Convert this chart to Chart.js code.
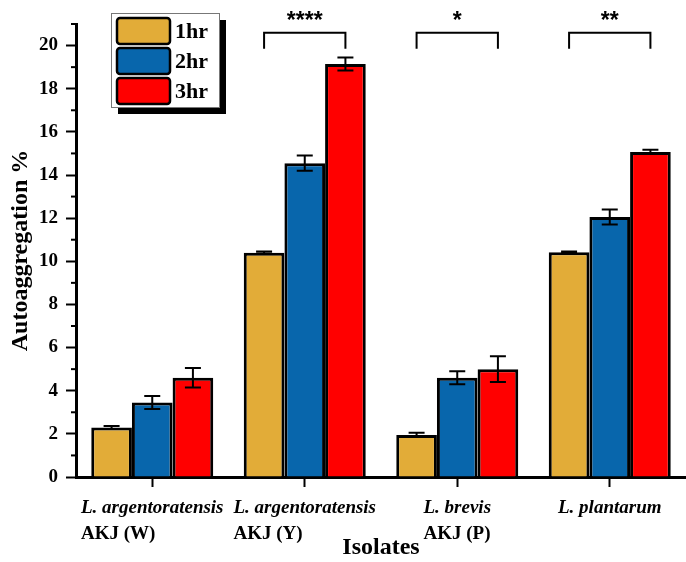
<!DOCTYPE html>
<html lang="en">
<head>
    <meta charset="UTF-8">
    <title>Autoaggregation</title>
    <script src="https://cdn.jsdelivr.net/npm/chart.js"></script>
    <style>
        html, body { margin: 0; padding: 0; background: #fff; }
        #wrap { width: 686px; height: 562px; }
    </style>
</head>
<body>
    <div id="wrap"><canvas id="aggChart"></canvas></div>

    <script>
        // x labels: first line italic, second line upright
        const categories = [
            ['L. argentoratensis', 'AKJ (W)'],
            ['L. argentoratensis', 'AKJ (Y)'],
            ['L. brevis', 'AKJ (P)'],
            ['L. plantarum']
        ];
        const seriesLabels = ['1hr', '2hr', '3hr'];
        const values1hr = [2.3, 10.4, 1.95, 10.42];
        const values2hr = [3.45, 14.55, 4.6, 12.05];
        const values3hr = [4.6, 19.15, 5.0, 15.07];
        const err1hr = [0.07, 0.05, 0.1, 0.03];
        const err2hr = [0.3, 0.35, 0.3, 0.35];
        const err3hr = [0.45, 0.3, 0.6, 0.1];
        const yTicks = [0, 2, 4, 6, 8, 10, 12, 14, 16, 18, 20];
        const yMinorTicks = [1, 3, 5, 7, 9, 11, 13, 15, 17, 19, 21];
        const sigCategories = [1, 2, 3];
        const sigLabels = ['****', '*', '**'];
        const sigTop = 20.6;
        const sigLeg = 19.85;
        const sigText = 21.45;

        const colors = ['#E2AC38', '#0866AC', '#FF0000'];
        const serif = '"Liberation Serif", "Times New Roman", serif';

        const errorBars = {
            id: 'errorBars',
            afterDatasetsDraw(chart) {
                const ctx = chart.ctx;
                const y = chart.scales.y;
                ctx.save();
                ctx.strokeStyle = '#000';
                ctx.lineWidth = 2;
                chart.data.datasets.forEach((ds, i) => {
                    const meta = chart.getDatasetMeta(i);
                    meta.data.forEach((bar, j) => {
                        const v = ds.data[j], e = ds.errors[j];
                        const yt = y.getPixelForValue(v + e);
                        const yb = y.getPixelForValue(v - e);
                        const x = bar.x;
                        ctx.beginPath();
                        ctx.moveTo(x, yt); ctx.lineTo(x, yb);
                        ctx.moveTo(x - 8, yt); ctx.lineTo(x + 8, yt);
                        ctx.moveTo(x - 8, yb); ctx.lineTo(x + 8, yb);
                        ctx.stroke();
                    });
                });
                ctx.restore();
            }
        };

        const extras = {
            id: 'extras',
            afterDraw(chart) {
                const ctx = chart.ctx;
                const x = chart.scales.x, y = chart.scales.y;
                ctx.save();

                // minor y ticks
                ctx.strokeStyle = '#000';
                ctx.lineWidth = 2;
                yMinorTicks.forEach(v => {
                    const py = y.getPixelForValue(v);
                    ctx.beginPath();
                    ctx.moveTo(x.left - 5, py);
                    ctx.lineTo(x.left, py);
                    ctx.stroke();
                });

                // x labels
                ctx.fillStyle = '#000';
                ctx.textBaseline = 'middle';
                ctx.textAlign = 'left';
                categories.forEach((lines, i) => {
                    const cx = x.getPixelForValue(i);
                    const fonts = ['italic bold 19px ' + serif, 'bold 19px ' + serif];
                    let w = 0;
                    lines.forEach((t, k) => {
                        ctx.font = fonts[k];
                        w = Math.max(w, ctx.measureText(t).width);
                    });
                    const lx = cx - w / 2;
                    lines.forEach((t, k) => {
                        ctx.font = fonts[k];
                        ctx.fillText(t, lx, 508 + k * 26);
                    });
                });

                // significance brackets
                ctx.lineWidth = 2;
                sigCategories.forEach((c, i) => {
                    const x1 = chart.getDatasetMeta(0).data[c].x;
                    const x2 = chart.getDatasetMeta(2).data[c].x;
                    const yt = y.getPixelForValue(sigTop);
                    const yl = y.getPixelForValue(sigLeg);
                    ctx.beginPath();
                    ctx.moveTo(x1, yl); ctx.lineTo(x1, yt);
                    ctx.lineTo(x2, yt); ctx.lineTo(x2, yl);
                    ctx.stroke();
                    ctx.font = 'bold 23px "Liberation Sans", Arial, sans-serif';
                    ctx.textAlign = 'center';
                    ctx.fillText(sigLabels[i], (x1 + x2) / 2, y.getPixelForValue(sigText) + 7);
                });

                // legend with drop shadow
                const bx = 111, by = 13, bwid = 108, bh = 94;
                ctx.fillStyle = '#000';
                ctx.fillRect(bx + 7, by + 7, bwid, bh);
                ctx.fillStyle = '#fff';
                ctx.fillRect(bx, by, bwid, bh);
                ctx.strokeStyle = '#777';
                ctx.lineWidth = 1;
                ctx.strokeRect(bx + 0.5, by + 0.5, bwid, bh);
                chart.data.datasets.forEach((ds, i) => {
                    const ry = by + 5 + i * 30;
                    ctx.beginPath();
                    ctx.roundRect(117, ry, 53, 26, 3);
                    ctx.fillStyle = ds.backgroundColor;
                    ctx.fill();
                    ctx.strokeStyle = '#000';
                    ctx.lineWidth = 2.5;
                    ctx.stroke();
                    ctx.fillStyle = '#000';
                    ctx.font = 'bold 22px ' + serif;
                    ctx.textAlign = 'left';
                    ctx.fillText(ds.label, 175, ry + 14);
                });

                ctx.restore();
            }
        };

        const seriesValues = [values1hr, values2hr, values3hr];
        const seriesErrors = [err1hr, err2hr, err3hr];

        new Chart(document.getElementById('aggChart'), {
            type: 'bar',
            data: {
                labels: categories.map(l => l.join(' ')),
                datasets: seriesLabels.map((lab, i) => ({
                    label: lab,
                    data: seriesValues[i],
                    errors: seriesErrors[i],
                    backgroundColor: colors[i],
                    borderColor: '#000',
                    borderWidth: 3,
                    categoryPercentage: 0.8,
                    barPercentage: 1.0
                }))
            },
            options: {
                responsive: true,
                maintainAspectRatio: false,
                animation: false,
                layout: { padding: { top: 24, right: 0, left: 0, bottom: 0 } },
                plugins: {
                    legend: { display: false },
                    tooltip: { enabled: false }
                },
                scales: {
                    x: {
                        grid: {
                            offset: false,
                            drawOnChartArea: false,
                            drawTicks: true,
                            tickLength: 10,
                            tickWidth: 2,
                            tickColor: '#000'
                        },
                        border: { display: true, color: '#000', width: 3 },
                        ticks: { display: false },
                        title: {
                            display: true,
                            text: 'Isolates',
                            color: '#000',
                            font: { family: serif, size: 24, weight: 'bold' },
                            padding: { top: 0, bottom: 0 }
                        },
                        afterFit(scale) { scale.height = 85; }
                    },
                    y: {
                        min: 0,
                        max: 21,
                        afterBuildTicks(scale) {
                            scale.ticks = yTicks.map(v => ({ value: v }));
                        },
                        grid: {
                            drawOnChartArea: false,
                            drawTicks: true,
                            tickLength: 10,
                            tickWidth: 2,
                            tickColor: '#000'
                        },
                        border: { display: true, color: '#000', width: 3 },
                        ticks: {
                            color: '#000',
                            padding: 8,
                            font: { family: serif, size: 19, weight: 'bold' }
                        },
                        title: {
                            display: true,
                            text: 'Autoaggregation %',
                            color: '#000',
                            font: { family: serif, size: 24, weight: 'bold' },
                            padding: { top: 6, bottom: 0 }
                        },
                        afterFit(scale) { scale.width = 76; }
                    }
                }
            },
            plugins: [errorBars, extras]
        });
    </script>
</body>
</html>
